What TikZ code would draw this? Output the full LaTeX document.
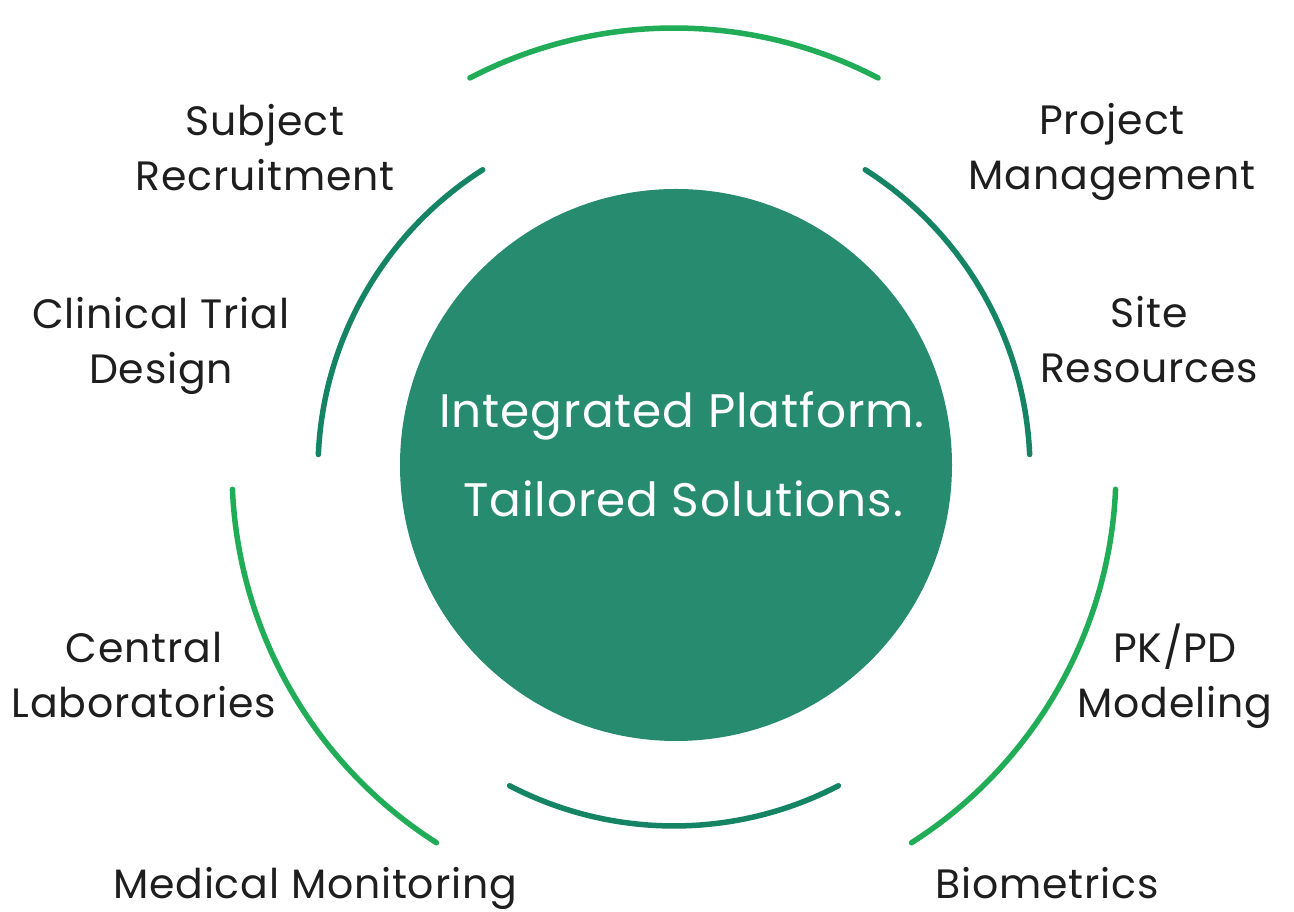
\documentclass[tikz,border=0pt]{standalone}
\usepackage{fontspec}
\setmainfont{Poppins}
\newfontfamily\lblfont[LetterSpace=2]{Poppins}
\definecolor{lightg}{RGB}{33,172,88}
\definecolor{darkg}{RGB}{21,132,100}
\definecolor{fillg}{RGB}{38,139,111}
\definecolor{txt}{RGB}{30,30,30}
\begin{document}
\begin{tikzpicture}[x=1pt,y=1pt,
  outerarc/.style={draw=lightg,line width=5.5pt,line cap=round},
  innerarc/.style={draw=darkg,line width=5.5pt,line cap=round},
  lbl/.style={text=txt,font=\lblfont\fontsize{41}{55}\selectfont,align=center,anchor=base,inner sep=0pt},
  ctr/.style={text=white,font=\lblfont\fontsize{47}{89}\selectfont,align=center,anchor=base,inner sep=0pt}]
\useasboundingbox[fill=white] (0,0) rectangle (1294,912);
\coordinate (O) at (674,442);
% centre disc
\node[circle,fill=fillg,minimum size=552pt,inner sep=0pt] (disc) at (676,447) {};
% outer arcs
\draw[outerarc] (O) ++(62.5:442) arc[start angle=62.5,end angle=117.5,radius=442];
\draw[outerarc] (O) ++(182.5:442) arc[start angle=182.5,end angle=237.5,radius=442];
\draw[outerarc] (O) ++(-57.5:442) arc[start angle=-57.5,end angle=-2.5,radius=442];
% inner arcs
\draw[innerarc] (O) ++(122.5:356) arc[start angle=122.5,end angle=177.5,radius=356];
\draw[innerarc] (O) ++(2.5:356) arc[start angle=2.5,end angle=57.5,radius=356];
\draw[innerarc] (O) ++(242.5:356) arc[start angle=242.5,end angle=297.5,radius=356];
% centre text
\node[ctr] (t1) at (682,484) {Integrated Platform.};
\node[ctr] (t2) at (683,395) {Tailored Solutions.};
% labels
\node[lbl] (sr1) at (265,776) {Subject};
\node[lbl] (sr2) at (265,721) {Recruitment};
\node[lbl] (ct1) at (161,583) {Clinical Trial};
\node[lbl] (ct2) at (161,528) {Design};
\node[lbl] (cl1) at (144,249) {Central};
\node[lbl] (cl2) at (144,194) {Laboratories};
\node[lbl] (mm) at (315,13) {Medical Monitoring};
\node[lbl] (pm1) at (1112,777) {Project};
\node[lbl] (pm2) at (1112,722) {Management};
\node[lbl] (sre1) at (1149,584) {Site};
\node[lbl] (sre2) at (1149,529) {Resources};
\node[lbl] (pk1) at (1175,249) {PK/PD};
\node[lbl] (pk2) at (1175,194) {Modeling};
\node[lbl] (bio) at (1047,13) {Biometrics};
\end{tikzpicture}
\end{document}
